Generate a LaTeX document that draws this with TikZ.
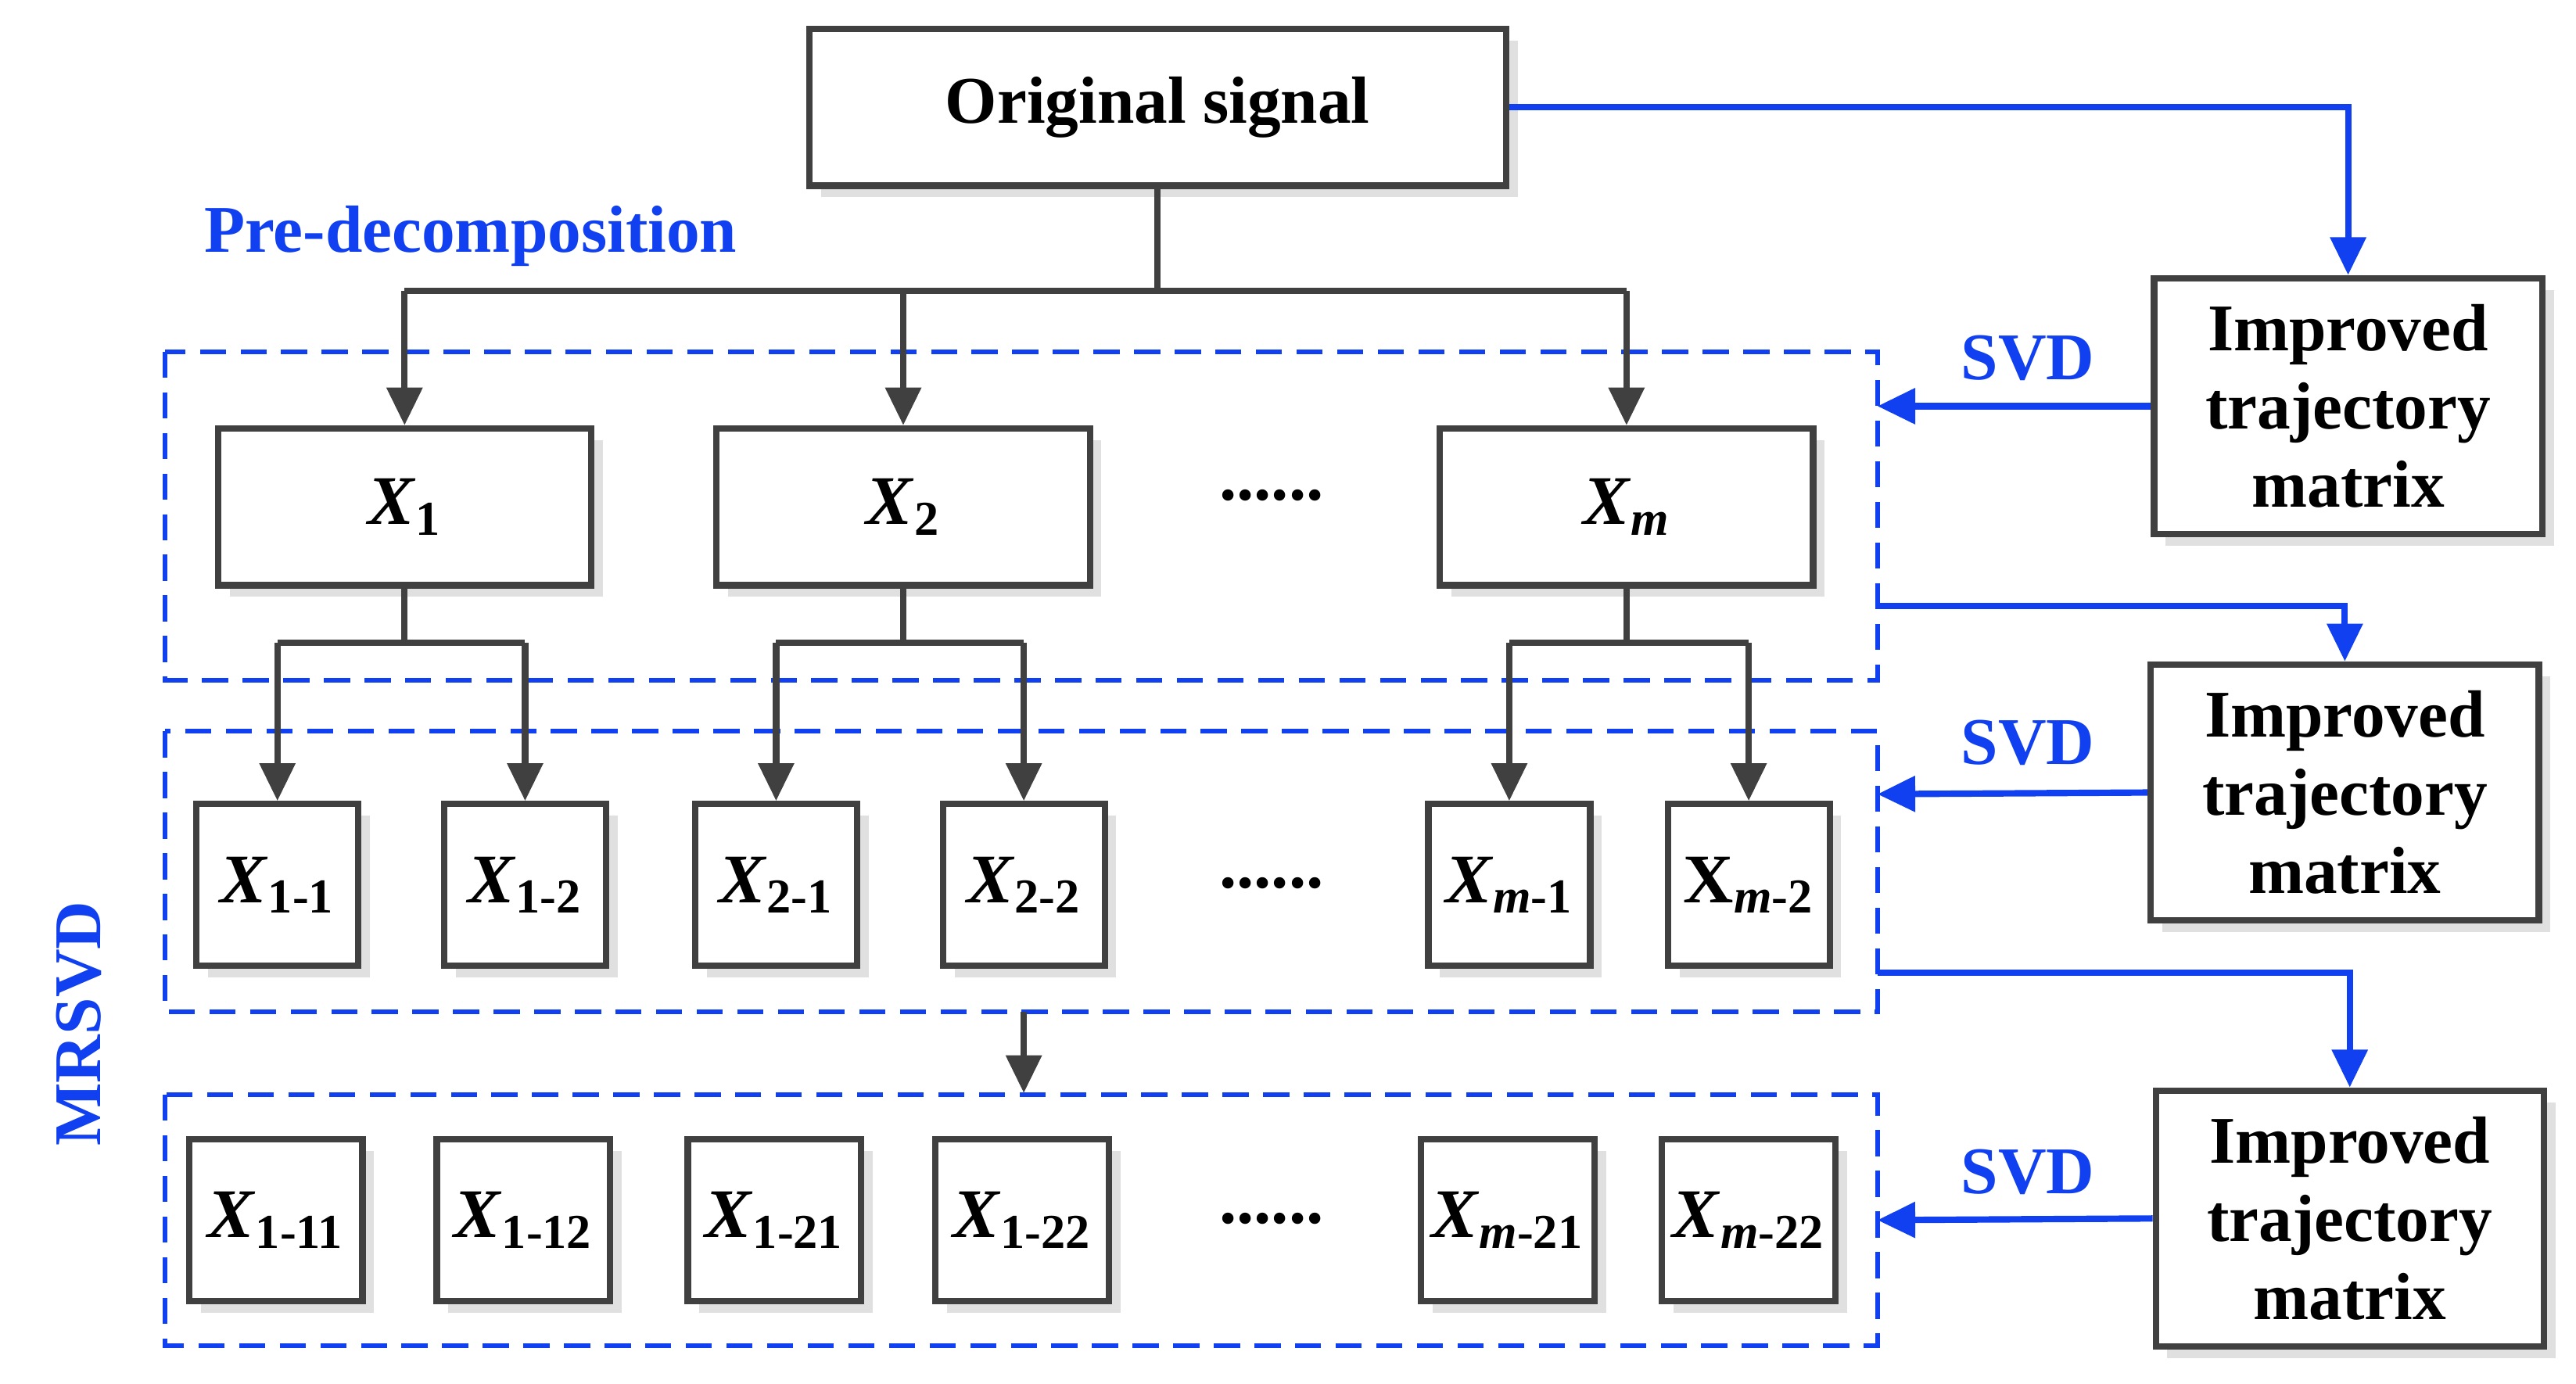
\documentclass[tikz,border=0pt]{standalone}
\usepackage{fontspec}
\setmainfont{Liberation Serif}
\usetikzlibrary{arrows.meta,shadows}
\definecolor{dk}{HTML}{404040}
\definecolor{bl}{HTML}{1040F0}
\newcommand{\xsub}[1]{\textit{X}\textsubscript{#1}}
\newcommand{\xsubu}[1]{X\textsubscript{#1}}
\begin{document}
\begin{tikzpicture}[x=0.02cm,y=-0.02cm,
  box/.style={draw=dk,line width=2.2pt,fill=white,inner sep=0pt,
    copy shadow={shadow xshift=4pt,shadow yshift=-4pt,draw=none,fill=black!12}},
  dbox/.style={draw=bl,line width=1.6pt,dash pattern=on 9pt off 5pt},
  con/.style={draw=dk,line width=2.2pt},
  arr/.style={con,-{Triangle[length=13pt,width=12pt]}},
  barr/.style={draw=bl,line width=2.2pt,-{Triangle[length=13pt,width=12pt]}},
  lab/.style={font=\bfseries\fontsize{23}{26}\selectfont},
  xlab/.style={font=\bfseries\fontsize{24}{26}\selectfont},
  blab/.style={font=\bfseries\fontsize{23}{26}\selectfont,text=bl},
  dots/.style={font=\bfseries\fontsize{24}{24}\selectfont}]
\useasboundingbox (0,0) rectangle (1560,838);
% top
\node[box,minimum width=422*0.02cm,minimum height=95*0.02cm,lab] (os) at (701,65) {Original signal};
\node[blab] (pre) at (285,143) {Pre-decomposition};
% dashed boxes
\draw[dbox] (100,213) rectangle (1137,412);
\draw[dbox] (100,443) rectangle (1137,613);
\draw[dbox] (100,663) rectangle (1137,815);
\coordinate (d1a) at (1137,246); \coordinate (d1b) at (1137,367);
\coordinate (d2a) at (1137,481); \coordinate (d2b) at (1137,589);
\coordinate (d3a) at (1137,739);
% row1
\foreach \n/\x/\t in {a/245/{\xsub{1}},b/547/{\xsub{2}},c/985/{\xsub{\textit{m}}}}
  \node[box,minimum width=226*0.02cm,minimum height=95*0.02cm,xlab] (\n) at (\x,307) {\t};
\node[dots] (dot1) at (770,300) {......};
\coordinate (t) at (701,176);
\draw[con] (os.south) -- (t);
\draw[con] (245,176) -- (985,176);
\draw[arr] (245,176) -- (a.north);
\draw[arr] (547,176) -- (b.north);
\draw[arr] (985,176) -- (c.north);
% row2
\foreach \n/\x/\t in {a1/168/{\xsub{1-1}},a2/318/{\xsub{1-2}},b1/470/{\xsub{2-1}},b2/620/{\xsub{2-2}},c1/914/{\xsub{\textit{m}-1}},c2/1059/{\xsubu{\textit{m}-2}}}
  \node[box,minimum width=98*0.02cm,minimum height=98*0.02cm,xlab] (\n) at (\x,536) {\t};
\node[dots] (dot2) at (770,535) {......};
\foreach \p/\l/\r in {a/a1/a2,b/b1/b2,c/c1/c2}{
  \draw[con] (\p.south) -- ++(0,33) coordinate (m\p);
  \draw[con] (\l|-m\p) -- (\r|-m\p);
  \draw[arr] (\l|-m\p) -- (\l.north);
  \draw[arr] (\r|-m\p) -- (\r.north);}
% row3
\foreach \n/\x/\t in {e1/167/{\xsub{1-11}},e2/317/{\xsub{1-12}},e3/469/{\xsub{1-21}},e4/619/{\xsub{1-22}},e5/913/{\xsub{\textit{m}-21}},e6/1059/{\xsub{\textit{m}-22}}}
  \node[box,minimum width=105*0.02cm,minimum height=98*0.02cm,xlab] (\n) at (\x,739) {\t};
\node[dots] (dot3) at (770,738) {......};
\coordinate (v1) at (620,613); \coordinate (v2) at (620,662);
\draw[arr] (v1) -- (v2);
\node[blab,rotate=90] (mr) at (48,620) {MRSVD};
% right side
\foreach \n/\x/\y in {r1/1422/246,r2/1420/480,r3/1423/738}
  \node[box,minimum width=235*0.02cm,minimum height=155*0.02cm,align=center,font=\bfseries\fontsize{23}{27}\selectfont] (\n) at (\x,\y) {Improved\\trajectory\\matrix};
\foreach \n/\y in {s1/217,s2/450,s3/710} \node[blab] (\n) at (1228,\y) {SVD};
\draw[barr] (os.east) -| (r1.north);
\draw[barr] (r1.west) -- (d1a);
\draw[barr] (d1b) -| (r2.north);
\draw[barr] (r2.west) -- (d2a);
\draw[barr] (d2b) -| (r3.north);
\draw[barr] (r3.west) -- (d3a);
\end{tikzpicture}
\end{document}
